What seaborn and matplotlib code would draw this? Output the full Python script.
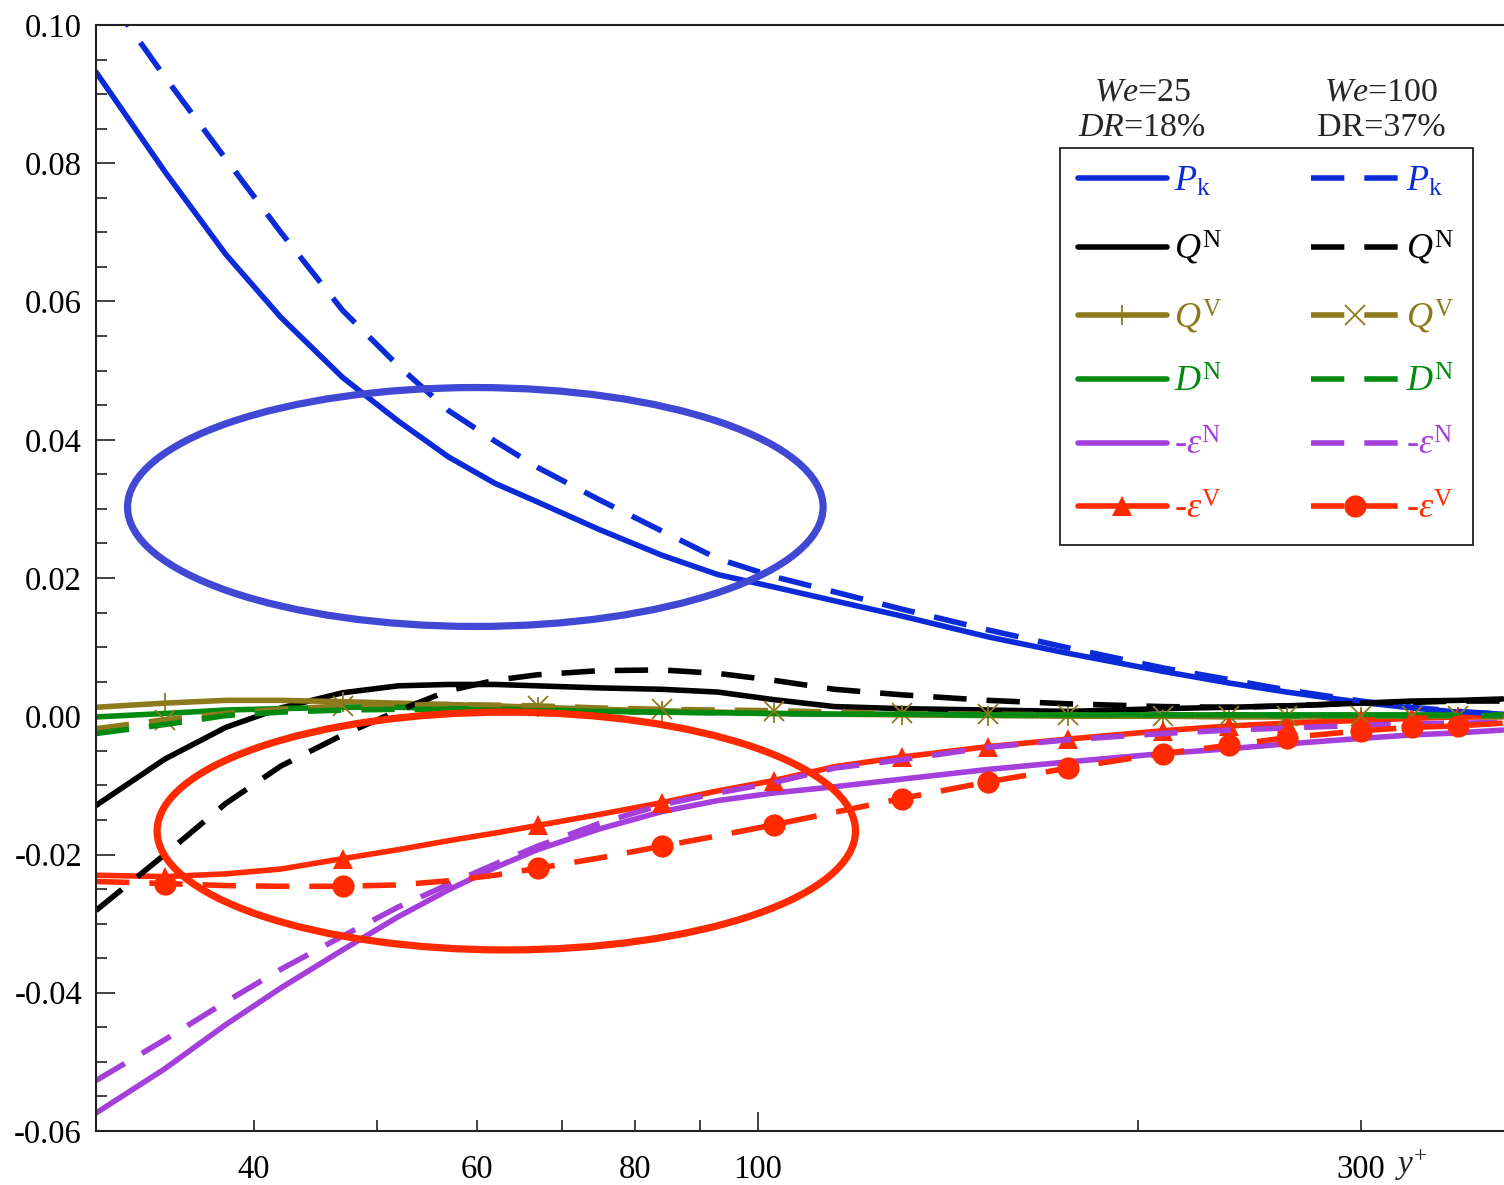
import matplotlib
matplotlib.use("Agg")
import matplotlib.pyplot as plt
import seaborn as sns
from matplotlib.lines import Line2D
from matplotlib.patches import Ellipse
from matplotlib.ticker import FixedLocator, FuncFormatter, MultipleLocator

# ---------------- data ----------------
y_plus = [30, 34, 38, 42, 47, 52, 57, 62, 67, 75, 84, 93, 103, 115, 130, 152,
          176, 209, 236, 262, 300, 329, 358, 388]
marker_idx = [1, 4, 8, 10, 12, 14, 15, 16, 17, 18, 19, 20, 21, 22]

Pk_we25 = [0.0932, 0.0788, 0.0668, 0.0577, 0.0490, 0.0427, 0.0375, 0.0337, 0.0310, 0.0270,
           0.0233, 0.0205, 0.0187, 0.0167, 0.0145, 0.0115, 0.0091, 0.0065, 0.0048, 0.0035,
           0.0020, 0.0012, 0.0006, 0.0003]
Pk_we100 = [0.1065, 0.0925, 0.0806, 0.0700, 0.0587, 0.0507, 0.0442, 0.0398, 0.0360, 0.0313,
            0.0268, 0.0228, 0.0202, 0.0180, 0.0155, 0.0125, 0.0099, 0.0070, 0.0053, 0.0038,
            0.0022, 0.0013, 0.0007, 0.0003]
QN_we25 = [-0.0129, -0.0062, -0.0016, 0.0012, 0.0034, 0.0044, 0.0046, 0.0046, 0.0044, 0.0041,
           0.0039, 0.0035, 0.0024, 0.0014, 0.0011, 0.0009, 0.0007, 0.0011, 0.0013, 0.0015,
           0.0019, 0.0022, 0.0023, 0.0025]
QN_we100 = [-0.0281, -0.0200, -0.0126, -0.0072, -0.0027, 0.0008, 0.0037, 0.0052, 0.0060, 0.0066,
            0.0067, 0.0062, 0.0052, 0.0039, 0.0031, 0.0023, 0.0018, 0.0014, 0.0013, 0.0015,
            0.0019, 0.0020, 0.0022, 0.0022]
QV_we25 = [0.0013, 0.0019, 0.0023, 0.0023, 0.0021, 0.0019, 0.0017, 0.0015, 0.0013, 0.0010,
           0.0008, 0.0006, 0.0004, 0.0003, 0.0002, 0.0001, 0.0000, 0.0000, -0.0001, -0.0001,
           -0.0001, -0.0001, -0.0001, -0.0001]
QV_we100 = [-0.0018, -0.0005, 0.0004, 0.0010, 0.0015, 0.0016, 0.0017, 0.0016, 0.0015, 0.0012,
            0.0010, 0.0009, 0.0008, 0.0006, 0.0004, 0.0003, 0.0002, 0.0001, 0.0001, 0.0000,
            0.0000, 0.0000, 0.0000, 0.0000]
DN_we25 = [-0.0001, 0.0004, 0.0009, 0.0011, 0.0013, 0.0013, 0.0011, 0.0010, 0.0009, 0.0007,
           0.0006, 0.0005, 0.0004, 0.0003, 0.0003, 0.0002, 0.0002, 0.0002, 0.0002, 0.0002,
           0.0002, 0.0002, 0.0002, 0.0002]
DN_we100 = [-0.0025, -0.0012, 0.0001, 0.0006, 0.0009, 0.0010, 0.0010, 0.0009, 0.0008, 0.0007,
            0.0006, 0.0005, 0.0004, 0.0003, 0.0003, 0.0002, 0.0002, 0.0002, 0.0002, 0.0001,
            0.0001, 0.0001, 0.0001, 0.0001]
epsN_we25 = [-0.0574, -0.0510, -0.0446, -0.0393, -0.0338, -0.0290, -0.0251, -0.0219, -0.0193, -0.0163,
             -0.0138, -0.0122, -0.0111, -0.0102, -0.0091, -0.0077, -0.0066, -0.0054, -0.0047, -0.0040,
             -0.0032, -0.0027, -0.0024, -0.0020]
epsN_we100 = [-0.0527, -0.0468, -0.0413, -0.0366, -0.0318, -0.0276, -0.0243, -0.0214, -0.0188, -0.0155,
              -0.0128, -0.0111, -0.0096, -0.0075, -0.0063, -0.0045, -0.0034, -0.0025, -0.0020, -0.0017,
              -0.0013, -0.0011, -0.0010, -0.0009]
epsV_we25 = [-0.0230, -0.0232, -0.0228, -0.0221, -0.0206, -0.0193, -0.0180, -0.0169, -0.0158, -0.0142,
             -0.0125, -0.0108, -0.0093, -0.0073, -0.0059, -0.0044, -0.0033, -0.0021, -0.0014, -0.0010,
             -0.0006, -0.0003, -0.0001, 0.0000]
epsV_we100 = [-0.0239, -0.0242, -0.0245, -0.0246, -0.0246, -0.0244, -0.0238, -0.0230, -0.0220, -0.0205,
              -0.0188, -0.0173, -0.0157, -0.0139, -0.0119, -0.0095, -0.0075, -0.0054, -0.0042, -0.0031,
              -0.0021, -0.0016, -0.0014, -0.0010]

labels = [r'$P_{\mathrm{k}}$', r'$Q^{\mathrm{N}}$', r'$Q^{\mathrm{V}}$', r'$D^{\mathrm{N}}$',
          r'-$\varepsilon^{\mathrm{N}}$', r'-$\varepsilon^{\mathrm{V}}$']
xtick_labels = [40, 60, 80, 100, 300]

# ---------------- style ----------------
sns.set_theme(style="ticks")
plt.rcParams['font.family'] = ['Liberation Serif', 'DejaVu Serif']
plt.rcParams['mathtext.fontset'] = 'custom'
plt.rcParams['mathtext.rm'] = 'Liberation Serif'
plt.rcParams['mathtext.it'] = 'Liberation Serif:italic'
plt.rcParams['mathtext.bf'] = 'Liberation Serif:bold'
plt.rcParams['axes.unicode_minus'] = False

C_BLUE = '#0b2bd9'
C_BLACK = '#000000'
C_OLIVE = '#8c7a1c'
C_GREEN = '#008a12'
C_PURPLE = '#a53fdc'
C_RED = '#ff2a00'

LW = 4.0
DASH = (0, (6.0, 3.6))

fig = plt.figure(figsize=(15.04, 11.85), dpi=100)
ax = fig.add_axes([96 / 1504, 54 / 1185, 1408 / 1504, 1106 / 1185])

series = [
    (Pk_we25, C_BLUE, '-', None),
    (QN_we25, C_BLACK, '-', None),
    (QV_we25, C_OLIVE, '-', '+'),
    (DN_we25, C_GREEN, '-', None),
    (epsN_we25, C_PURPLE, '-', None),
    (epsV_we25, C_RED, '-', '^'),
    (Pk_we100, C_BLUE, DASH, None),
    (QN_we100, C_BLACK, DASH, None),
    (QV_we100, C_OLIVE, DASH, 'x'),
    (DN_we100, C_GREEN, DASH, None),
    (epsN_we100, C_PURPLE, DASH, None),
    (epsV_we100, C_RED, DASH, 'o'),
]

def marker_kw(m, color):
    if m is None:
        return {}
    if m in ('+', 'x'):
        return dict(marker=m, markersize=15, markeredgewidth=1.3,
                    markeredgecolor=color, markerfacecolor=color, markevery=marker_idx)
    if m == '^':
        return dict(marker=m, markersize=14, markeredgewidth=0,
                    markeredgecolor=color, markerfacecolor=color, markevery=marker_idx)
    return dict(marker=m, markersize=16, markeredgewidth=0,
                markeredgecolor=color, markerfacecolor=color, markevery=marker_idx)

handles = []
for vals, col, ls, m in series:
    sns.lineplot(x=y_plus, y=vals, ax=ax, color=col, linestyle=ls, lw=LW,
                 sort=False, estimator=None, legend=False, clip_on=True,
                 **marker_kw(m, col))
    handles.append(Line2D([], [], color=col, linestyle=ls, lw=LW,
                          **{k: v for k, v in marker_kw(m, col).items() if k != 'markevery'}))

# ellipses (annotation, in axes fraction)
ax.add_patch(Ellipse((0.2694, 0.5642), 0.494, 0.216, transform=ax.transAxes,
                     fill=False, edgecolor='#4149d4', lw=5.2, zorder=5))
ax.add_patch(Ellipse((0.2914, 0.2712), 0.496, 0.215, transform=ax.transAxes,
                     fill=False, edgecolor='#ff2a00', lw=5.2, zorder=5))

# ---------------- axes ----------------
ax.set_xscale('log')
ax.set_xlim(30, 389)
ax.set_ylim(-0.06, 0.10)
ax.xaxis.set_major_locator(FixedLocator([100]))
ax.xaxis.set_minor_locator(FixedLocator([30, 40, 50, 60, 70, 80, 90, 200, 300]))
ax.xaxis.set_major_formatter(FuncFormatter(lambda v, p: f'{v:g}'))
ax.xaxis.set_minor_formatter(FuncFormatter(lambda v, p: f'{v:g}' if round(v) in xtick_labels else ''))
ax.yaxis.set_major_locator(MultipleLocator(0.02))
ax.yaxis.set_minor_locator(MultipleLocator(0.005))
ax.yaxis.set_major_formatter(FuncFormatter(lambda v, p: f'{v:.2f}'))

ax.tick_params(axis='both', which='both', direction='in', colors='#333333',
               labelcolor='black', labelsize=23.5, width=1.3)
ax.tick_params(axis='both', which='major', length=14)
ax.tick_params(axis='both', which='minor', length=8)
ax.tick_params(axis='x', which='both', pad=17)
ax.tick_params(axis='y', which='both', pad=10)
for s in ['left', 'bottom', 'top']:
    ax.spines[s].set_color('#222222')
    ax.spines[s].set_linewidth(1.5)
ax.spines['right'].set_visible(False)
ax.set_xlabel('')
ax.set_ylabel('')

ax.text(0.934, -0.031, r'$y^{+}$', transform=ax.transAxes, fontsize=24,
        ha='center', va='center')

# legend
leg = ax.legend(handles=handles, labels=labels * 2, ncol=2, loc='upper right',
                bbox_to_anchor=(0.978, 0.889), fontsize=26, frameon=True,
                fancybox=False, framealpha=1, edgecolor='#222222',
                handlelength=2.45, handletextpad=0.2, columnspacing=2.45,
                labelspacing=0.84, borderpad=0.5, labelcolor='linecolor',
                numpoints=1, borderaxespad=0)
leg.get_frame().set_linewidth(1.3)

ax.text(0.743, 0.939, r'$We$=25', transform=ax.transAxes, fontsize=24.5, ha='center', va='center')
ax.text(0.743, 0.907, r'$DR$=18%', transform=ax.transAxes, fontsize=24.5, ha='center', va='center')
ax.text(0.913, 0.939, r'$We$=100', transform=ax.transAxes, fontsize=24.5, ha='center', va='center')
ax.text(0.913, 0.907, 'DR=37%', transform=ax.transAxes, fontsize=24.5, ha='center', va='center')

fig.savefig('out.png', dpi=100)
